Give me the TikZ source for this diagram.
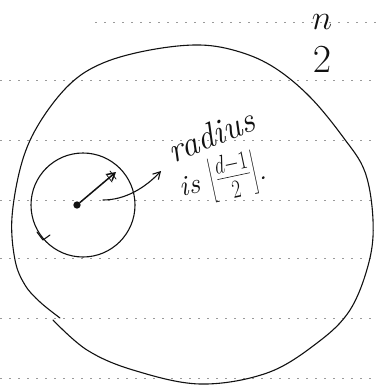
\documentclass[tikz,border=0pt]{standalone}
\usepackage{tikz}
\usepackage{graphicx}
\usetikzlibrary{arrows.meta, positioning}
\definecolor{inkblack}{HTML}{111111}
\definecolor{rulegray}{HTML}{9A9A9A}

\begin{document}
\begin{tikzpicture}[
    x=1pt, y=-1pt,
    >={Straight Barb[length=7pt, width=8pt]},
    ink/.style={inkblack, line width=1.1pt, line cap=round, line join=round},
    ruled/.style={rulegray, line width=0.6pt, dash pattern=on 2pt off 7pt},
    hand/.style={inkblack, font=\itshape\fontsize{26}{28}\selectfont, inner sep=0pt},
]
\useasboundingbox (0,0) rectangle (376,385);

% Notebook rules
\draw[ruled] (95,22) -- (376,22);
\foreach \yy in {80,140,200,258,318,378}
    \draw[ruled] (0,\yy) -- (376,\yy);

% Outer region (one hand stroke, slight gap at lower left)
\draw[ink] plot[smooth, tension=0.6] coordinates {
    (53,320) (87,350) (133,370) (200,384) (267,373) (317,343) (350,310)
    (369,262) (373,220) (365,172) (343,137) (310,97) (275,68) (240,52)
    (200,45) (150,50) (103,63) (70,84) (40,122) (22,162) (12,217)
    (15,260) (25,285) (40,302) (60,318)};

% Ball round a point
\node[ink, draw, circle, minimum size=104pt, inner sep=0pt] (ball) at (83,205) {};
\node[fill=inkblack, circle, inner sep=2.6pt] (ctr) at (77,205) {};
\draw[ink] (37,232) -- (43,240) -- (50,235);

% Radius
\coordinate (rtip) at (116,172);
\draw[ink, line width=1.5pt, ->] (ctr) -- (rtip);
\draw[ink, line width=0.8pt] (106,174) -- (112,182) (110,171) -- (116,179);

% Labels
\node[hand, rotate=22] (rad) at (211,135) {\scalebox{1.35}{radius}};
\node[hand, rotate=12] (isfl) at (223,178)
    {\scalebox{1.1}{is \scalebox{1}[1.35]{$\left\lfloor\frac{d-1}{2}\right\rfloor$}.}};
\coordinate (hook) at (103,200);
\draw[ink, ->] (hook) .. controls (125,200) and (145,188) .. (161,171);

% Space label
\node[hand] (expn) at (322,22) {\scalebox{1.4}{$n$}};
\node[hand] (base) at (322,60) {\scalebox{1.6}{$2$}};

\end{tikzpicture}
\end{document}
